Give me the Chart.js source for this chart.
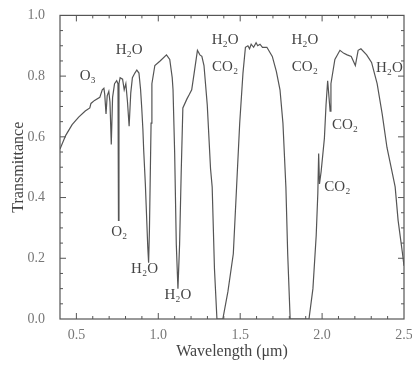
<!DOCTYPE html>
<html>
<head>
<meta charset="utf-8">
<script src="https://cdn.jsdelivr.net/npm/chart.js@4.4.0/dist/chart.umd.min.js"></script>
<style>
  html, body { margin: 0; padding: 0; background: #fff; }
  #wrap { width: 412px; height: 367px; }
</style>
</head>
<body>
<div id="wrap"><canvas id="lineChart"></canvas></div>
<script>
// DATA
const wavelength = [
    0.40, 0.435, 0.474, 0.514, 0.554, 0.582, 0.589, 0.611, 0.643, 0.658,
    0.668, 0.673, 0.681, 0.688, 0.698, 0.705, 0.713, 0.721, 0.733, 0.746,
    0.754, 0.757, 0.760, 0.767, 0.782, 0.792, 0.802, 0.812, 0.822, 0.832,
    0.842, 0.857, 0.869, 0.882, 0.892, 0.899, 0.906, 0.911, 0.921, 0.926,
    0.936, 0.941, 0.946, 0.956, 0.961, 0.979, 1.011, 1.050, 1.070, 1.085,
    1.090, 1.100, 1.110, 1.120, 1.130, 1.140, 1.150, 1.175, 1.190, 1.204,
    1.219, 1.239, 1.254, 1.266, 1.279, 1.299, 1.319, 1.329, 1.343, 1.358,
    1.394, 1.425, 1.458, 1.478, 1.497, 1.517, 1.532, 1.547, 1.557, 1.567,
    1.582, 1.597, 1.607, 1.621, 1.636, 1.663, 1.696, 1.721, 1.743, 1.761,
    1.779, 1.790, 1.805, 1.920, 1.944, 1.964, 1.974, 1.979, 1.984, 1.994,
    2.014, 2.024, 2.034, 2.049, 2.054, 2.078, 2.109, 2.133, 2.153, 2.178,
    2.203, 2.220, 2.237, 2.272, 2.302, 2.336, 2.367, 2.396, 2.431, 2.446,
    2.464, 2.491, 2.5
];
const transmittance = [
    0.56, 0.605, 0.64, 0.665, 0.685, 0.695, 0.71, 0.72, 0.73, 0.755,
    0.76, 0.74, 0.675, 0.735, 0.75, 0.715, 0.575, 0.73, 0.775, 0.785,
    0.775, 0.325, 0.775, 0.795, 0.79, 0.755, 0.775, 0.715, 0.635, 0.745,
    0.795, 0.81, 0.82, 0.81, 0.755, 0.695, 0.625, 0.555, 0.445, 0.375,
    0.235, 0.185, 0.295, 0.645, 0.775, 0.835, 0.85, 0.87, 0.855, 0.795,
    0.755, 0.545, 0.245, 0.10, 0.245, 0.485, 0.695, 0.725, 0.74, 0.755,
    0.81, 0.885, 0.87, 0.865, 0.835, 0.705, 0.495, 0.435, 0.165, 0.0,
    0.0, 0.09, 0.215, 0.435, 0.645, 0.81, 0.895, 0.90, 0.89, 0.905,
    0.895, 0.91, 0.90, 0.905, 0.895, 0.895, 0.865, 0.815, 0.755, 0.645,
    0.435, 0.215, 0.0, 0.0, 0.10, 0.275, 0.415, 0.545, 0.445, 0.485,
    0.595, 0.705, 0.785, 0.685, 0.775, 0.855, 0.885, 0.875, 0.87, 0.865,
    0.835, 0.885, 0.89, 0.87, 0.845, 0.775, 0.675, 0.565, 0.475, 0.435,
    0.325, 0.215, 0.175
];

const xTicks = [0.5, 1.0, 1.5, 2.0, 2.5];
const yTicks = [0.0, 0.2, 0.4, 0.6, 0.8, 1.0];

// absorber labels, placed in data units
const labelText = ["O₃", "H₂O", "O₂", "H₂O", "H₂O", "H₂O", "CO₂", "H₂O", "CO₂", "CO₂", "CO₂", "H₂O"];
const labelX = [0.569, 0.822, 0.762, 0.916, 1.120, 1.408, 1.408, 1.895, 1.895, 2.140, 2.093, 2.411];
const labelY = [0.80, 0.885, 0.285, 0.165, 0.08, 0.92, 0.83, 0.92, 0.83, 0.64, 0.435, 0.825];

const serif = "'Liberation Serif', 'DejaVu Serif', serif";

// frame + inward ticks + absorber labels
const framePlugin = {
    id: "frame",
    afterDatasetsDraw(chart) {
        const { ctx, chartArea: a, scales } = chart;
        const xs = scales.x, ys = scales.y;
        ctx.save();
        ctx.strokeStyle = "#555";
        ctx.lineWidth = 1.2;
        ctx.strokeRect(a.left, a.top, a.right - a.left, a.bottom - a.top);

        ctx.lineWidth = 1;
        for (let i = 5; i <= 24; i++) {
            const px = xs.getPixelForValue(i / 10);
            const len = (i % 5 === 0) ? 6 : 3;
            ctx.beginPath();
            ctx.moveTo(px, a.bottom); ctx.lineTo(px, a.bottom - len);
            ctx.moveTo(px, a.top); ctx.lineTo(px, a.top + len);
            ctx.stroke();
        }
        for (let i = 1; i < 20; i++) {
            const py = ys.getPixelForValue(i / 20);
            const len = (i % 4 === 0) ? 6 : 3;
            ctx.beginPath();
            ctx.moveTo(a.left, py); ctx.lineTo(a.left + len, py);
            ctx.moveTo(a.right, py); ctx.lineTo(a.right - len, py);
            ctx.stroke();
        }

        ctx.fillStyle = "#444";
        ctx.font = "15px " + serif;
        ctx.textAlign = "center";
        ctx.textBaseline = "middle";
        labelText.forEach((t, i) => {
            ctx.fillText(t, xs.getPixelForValue(labelX[i]), ys.getPixelForValue(labelY[i]));
        });
        ctx.restore();
    }
};

const ctx = document.getElementById("lineChart").getContext("2d");

new Chart(ctx, {
    type: "line",
    data: {
        datasets: [{
            data: wavelength.map((w, i) => ({ x: w, y: transmittance[i] })),
            borderColor: "#555",
            borderWidth: 1.2,
            pointRadius: 0,
            tension: 0,
            fill: false
        }]
    },
    options: {
        responsive: true,
        maintainAspectRatio: false,
        animation: false,
        layout: { padding: { top: 12, right: 8, left: 0, bottom: 0 } },
        plugins: { legend: { display: false }, tooltip: { enabled: false } },
        scales: {
            x: {
                type: "linear",
                min: 0.4,
                max: 2.5,
                grid: { display: false },
                border: { display: false },
                afterBuildTicks: s => { s.ticks = xTicks.map(v => ({ value: v })); },
                afterFit: s => { s.height = 48; s.paddingLeft = 0; s.paddingRight = 0; },
                ticks: {
                    color: "#777",
                    font: { family: serif, size: 14 },
                    padding: 0,
                    maxRotation: 0,
                    callback: v => v.toFixed(1)
                },
                title: {
                    display: true,
                    text: "Wavelength (μm)",
                    color: "#444",
                    font: { family: serif, size: 16 },
                    padding: { top: 0, bottom: 6 }
                }
            },
            y: {
                min: 0,
                max: 1,
                grid: { display: false },
                border: { display: false },
                afterBuildTicks: s => { s.ticks = yTicks.map(v => ({ value: v })); },
                afterFit: s => { s.width = 60; },
                ticks: {
                    color: "#777",
                    font: { family: serif, size: 14 },
                    padding: 7,
                    callback: v => v.toFixed(1)
                },
                title: {
                    display: true,
                    text: "Transmittance",
                    color: "#444",
                    font: { family: serif, size: 16 },
                    padding: { top: 9, bottom: 0 }
                }
            }
        }
    },
    plugins: [framePlugin]
});
</script>
</body>
</html>
